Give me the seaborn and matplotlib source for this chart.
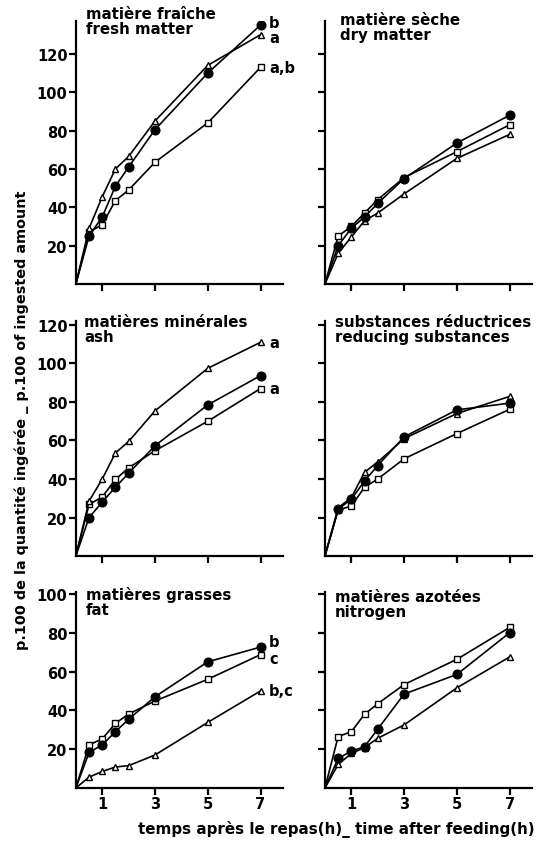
import numpy as np
import pandas as pd
import matplotlib
matplotlib.use('Agg')
import matplotlib.pyplot as plt
import seaborn as sns

# time after feeding (h); the origin is part of every curve
hours = [0, 0.5, 1, 1.5, 2, 3, 5, 7]

titles = [
    ("matière fraîche", "fresh matter"),
    ("matière sèche", "dry matter"),
    ("matières minérales", "ash"),
    ("substances réductrices", "reducing substances"),
    ("matières grasses", "fat"),
    ("matières azotées", "nitrogen"),
]

# p.100 of ingested amount
fresh_circle = [0, 25, 35, 51, 61, 80.5, 110, 135]
fresh_triangle = [0, 29, 45.5, 60, 66.5, 85, 114, 130]
fresh_square = [0, 27, 31, 43.5, 49, 63.5, 84, 113]

dry_circle = [0, 20, 29, 35, 42, 55, 73.5, 88]
dry_triangle = [0, 16, 24.5, 33, 37, 47, 65.5, 78]
dry_square = [0, 25, 30, 37, 44, 55.5, 69, 83]

ash_circle = [0, 20, 28, 35.8, 43, 57.3, 78.5, 93.7]
ash_triangle = [0, 28.5, 40, 53.5, 59.5, 75.4, 97.5, 111]
ash_square = [0, 26.8, 30.7, 39.8, 45.8, 54.7, 70, 87]

red_circle = [0, 24.3, 29.5, 39, 47, 61.9, 75.9, 79.4]
red_triangle = [0, 25, 30.4, 43.5, 48.8, 61, 74, 82.9]
red_square = [0, 23.8, 26, 35.7, 40, 50.5, 63.6, 76.2]

fat_circle = [0, 18.3, 22.2, 29, 35.4, 47, 65, 72.6]
fat_triangle = [0, 5.6, 8.5, 10.8, 11.5, 17, 33.8, 50]
fat_square = [0, 22.2, 25.3, 33.3, 38.1, 44.8, 56, 68.7]

nit_circle = [0, 15.2, 19, 21.3, 30.3, 48.4, 58.5, 80]
nit_triangle = [0, 12.1, 17.8, 20.8, 25.6, 32.5, 51.6, 67.5]
nit_square = [0, 26.5, 29, 38, 43.4, 53.3, 66.3, 82.7]

panels = [
    (fresh_circle, fresh_triangle, fresh_square),
    (dry_circle, dry_triangle, dry_square),
    (ash_circle, ash_triangle, ash_square),
    (red_circle, red_triangle, red_square),
    (fat_circle, fat_triangle, fat_square),
    (nit_circle, nit_triangle, nit_square),
]

# significance letters at the 7 h end of the curves (circle, triangle, square)
end_letters = [
    ("b", "a", "a,b"),
    ("", "", ""),
    ("", "a", "a"),
    ("", "", ""),
    ("b", "b,c", "c"),
    ("", "", ""),
]
# small vertical nudges (points) so stacked letters do not collide
letter_dy = [
    (1.5, -2, 0),
    (0, 0, 0),
    (0, 0, 0),
    (0, 0, 0),
    (4, 0, -2.5),
    (0, 0, 0),
]

y_tops = [137, 137, 122, 122, 101, 101]
y_ticks = [[20, 40, 60, 80, 100, 120]] * 4 + [[20, 40, 60, 80, 100]] * 2

sns.set_style('ticks')
plt.rcParams['font.family'] = ['DejaVu Sans']
plt.rcParams['font.weight'] = 'bold'
for key in ['text.color', 'axes.labelcolor', 'xtick.color', 'ytick.color', 'axes.edgecolor']:
    plt.rcParams[key] = 'black'

fig = plt.figure(figsize=(5.38, 8.45), dpi=100)

lefts = [0.141, 0.604]
rows = [(0.6627, 0.311), (0.3408, 0.278), (0.0663, 0.232)]
title_off = [(7, 11), (11, 7), (6, 5), (7, 5), (7, 4), (7, 2)]

styles = [
    dict(marker='o', markersize=6.5, markerfacecolor='black', markeredgecolor='black'),
    dict(marker='^', markersize=5, markerfacecolor='white', markeredgecolor='black', markeredgewidth=1),
    dict(marker='s', markersize=5, markerfacecolor='white', markeredgecolor='black', markeredgewidth=1),
]

for i, series in enumerate(panels):
    r, c = divmod(i, 2)
    bottom, height = rows[r]
    ax = fig.add_axes([lefts[c], bottom, 0.385, height])
    for k, vals in enumerate(series):
        df = pd.DataFrame({'h': hours, 'v': vals})
        sns.lineplot(data=df, x='h', y='v', ax=ax, color='black', linewidth=1.2,
                     markevery=list(range(1, len(hours))), zorder=3 - k * 0.1, **styles[k])
    ax.set_xlim(0, 7.85)
    ax.set_ylim(0, y_tops[i])
    ax.set_xticks([1, 3, 5, 7])
    ax.set_yticks(y_ticks[i])
    ax.set_xlabel('')
    ax.set_ylabel('')
    sns.despine(ax=ax)
    for s in ['left', 'bottom']:
        ax.spines[s].set_linewidth(1.6)
    ax.tick_params(width=1.6, length=5, labelsize=10.5, pad=1)
    if c == 1:
        ax.set_yticklabels([])
    if r < 2:
        ax.set_xticklabels([])
    ax.annotate(titles[i][0] + "\n" + titles[i][1], xy=(0, 1), xycoords='axes fraction',
                xytext=title_off[i], textcoords='offset points', va='top', ha='left',
                fontsize=10.8, fontweight='bold', linespacing=1.0)
    for k, lab in enumerate(end_letters[i]):
        if lab:
            ax.annotate(lab, xy=(7, series[k][-1]), xytext=(6, letter_dy[i][k]),
                        textcoords='offset points', va='center', ha='left',
                        fontsize=10.5, fontweight='bold')

fig.text(0.041, 0.503, "p.100 de la quantité ingérée _ p.100 of ingested amount",
         rotation=90, va='center', ha='center', fontsize=10.4, fontweight='bold')
fig.text(0.625, 0.018, "temps après le repas(h)_ time after feeding(h)",
         va='center', ha='center', fontsize=10.9, fontweight='bold')

fig.savefig('out.png', dpi=100)
